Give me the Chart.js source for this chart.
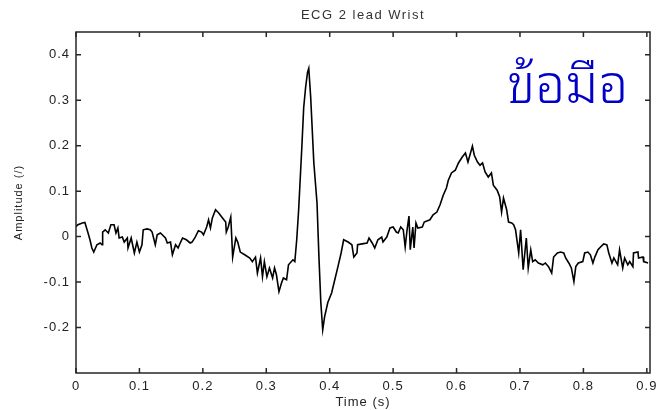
<!DOCTYPE html>
<html>
<head>
<meta charset="utf-8">
<script src="https://cdn.jsdelivr.net/npm/chart.js@4.4.1/dist/chart.umd.min.js"></script>
<style>
html,body{margin:0;padding:0;background:#fff;}
#wrap{position:relative;width:657px;height:410px;overflow:hidden;}
#thai{position:absolute;left:507px;top:53px;font-family:"Noto Sans Thai Looped","Loma","Garuda","Norasi","Kinnari","Waree","Tahoma","Noto Sans Thai",sans-serif;font-size:53px;font-weight:300;line-height:1;color:#0000c8;white-space:nowrap;}
</style>
</head>
<body>
<div id="wrap">
<canvas id="c" width="657" height="410"></canvas>
<div id="thai">ข้อมือ</div>
</div>
<script>
const chartTitle = "ECG 2 lead Wrist";
const xTitle = "Time (s)";
const yTitle = "Amplitude (/)";
const xTicks = [0,0.1,0.2,0.3,0.4,0.5,0.6,0.7,0.8,0.9];
const yTicks = [-0.2,-0.1,0,0.1,0.2,0.3,0.4];
const time = [0,0.003,0.010,0.014,0.019,0.022,0.025,0.028,0.033,0.038,0.041,0.042,0.046,0.051,0.055,0.060,0.063,0.066,0.068,0.073,0.076,0.081,0.082,0.087,0.092,0.096,0.100,0.104,0.106,0.112,0.117,0.120,0.125,0.128,0.133,0.136,0.141,0.144,0.149,0.152,0.157,0.161,0.165,0.168,0.174,0.180,0.183,0.188,0.193,0.198,0.201,0.206,0.209,0.212,0.215,0.220,0.225,0.231,0.236,0.237,0.240,0.244,0.245,0.247,0.252,0.255,0.259,0.266,0.274,0.278,0.283,0.286,0.291,0.294,0.297,0.301,0.305,0.310,0.313,0.316,0.320,0.324,0.327,0.332,0.335,0.342,0.345,0.348,0.351,0.356,0.359,0.362,0.365,0.367,0.370,0.375,0.380,0.383,0.386,0.389,0.392,0.397,0.403,0.408,0.413,0.418,0.422,0.429,0.435,0.438,0.443,0.444,0.451,0.459,0.462,0.467,0.471,0.476,0.482,0.484,0.490,0.495,0.500,0.505,0.508,0.512,0.516,0.519,0.522,0.525,0.527,0.531,0.533,0.536,0.539,0.546,0.549,0.558,0.563,0.569,0.574,0.579,0.584,0.587,0.592,0.598,0.603,0.609,0.614,0.618,0.622,0.625,0.628,0.633,0.637,0.641,0.645,0.650,0.655,0.658,0.664,0.668,0.671,0.674,0.679,0.682,0.687,0.690,0.693,0.698,0.701,0.705,0.710,0.713,0.717,0.720,0.724,0.729,0.736,0.740,0.745,0.750,0.753,0.759,0.764,0.769,0.772,0.777,0.781,0.785,0.788,0.792,0.799,0.802,0.807,0.811,0.815,0.818,0.823,0.827,0.832,0.837,0.840,0.845,0.848,0.854,0.857,0.862,0.865,0.870,0.873,0.878,0.879,0.886,0.887,0.894,0.895,0.902];
const amplitude = [0.022,0.026,0.030,0.031,0.008,-0.007,-0.025,-0.034,-0.018,-0.014,-0.018,0.010,0.015,0.008,0.026,0.026,0.008,0.019,-0.003,-0.001,-0.012,-0.003,-0.025,-0.003,-0.036,-0.012,-0.034,-0.018,0.015,0.017,0.015,0.010,-0.018,0.004,0.008,0.004,-0.003,-0.014,-0.012,-0.040,-0.018,-0.025,-0.012,-0.003,-0.007,-0.014,-0.012,-0.001,0.013,0.010,0.004,0.021,0.037,0.019,0.041,0.059,0.052,0.041,0.032,0.010,0.021,0.043,0.015,-0.045,-0.003,-0.012,-0.034,-0.040,-0.047,-0.055,-0.045,-0.080,-0.047,-0.088,-0.055,-0.088,-0.069,-0.091,-0.069,-0.084,-0.121,-0.102,-0.091,-0.095,-0.062,-0.051,-0.055,-0.007,0.058,0.195,0.284,0.328,0.361,0.370,0.307,0.162,0.074,-0.044,-0.145,-0.205,-0.176,-0.145,-0.124,-0.095,-0.066,-0.036,-0.007,-0.012,-0.018,-0.045,-0.036,-0.018,-0.016,-0.014,-0.003,-0.014,-0.025,-0.007,-0.001,-0.012,-0.001,0.019,0.021,0.010,0.008,0.021,0.015,-0.023,0.015,0.045,-0.029,0.021,-0.025,0.030,0.019,0.021,0.032,0.037,0.048,0.054,0.070,0.091,0.107,0.124,0.140,0.146,0.162,0.175,0.184,0.164,0.184,0.199,0.179,0.164,0.157,0.162,0.142,0.131,0.140,0.113,0.102,0.087,0.054,0.085,0.059,0.032,0.030,0.026,0.015,-0.036,0.015,-0.073,-0.003,-0.069,-0.029,-0.055,-0.051,-0.058,-0.062,-0.058,-0.066,-0.080,-0.045,-0.036,-0.034,-0.036,-0.047,-0.058,-0.069,-0.099,-0.066,-0.058,-0.055,-0.036,-0.034,-0.040,-0.058,-0.045,-0.029,-0.023,-0.016,-0.018,-0.036,-0.058,-0.047,-0.062,-0.029,-0.069,-0.047,-0.062,-0.055,-0.066,-0.036,-0.034,-0.047,-0.045,-0.055,-0.058];

const points = time.map((t,i)=>({x:t,y:amplitude[i]}));

const framePlugin = {
  id:'frame',
  beforeUpdate(chart){ chart.ctx.letterSpacing='1px'; },
  beforeDraw(chart){ chart.ctx.letterSpacing='1px'; },
  afterDraw(chart){
    const ctx=chart.ctx, a=chart.chartArea;
    const xs=chart.scales.x, ys=chart.scales.y;
    ctx.save();
    ctx.strokeStyle='#262626';
    ctx.lineWidth=1.5;
    ctx.strokeRect(a.left,a.top,a.right-a.left,a.bottom-a.top);
    ctx.beginPath();
    const L=5;
    xTicks.forEach(v=>{
      const px=xs.getPixelForValue(v);
      ctx.moveTo(px,a.bottom); ctx.lineTo(px,a.bottom-L);
      ctx.moveTo(px,a.top); ctx.lineTo(px,a.top+L);
    });
    yTicks.forEach(v=>{
      const py=ys.getPixelForValue(v);
      ctx.moveTo(a.left,py); ctx.lineTo(a.left+L,py);
      ctx.moveTo(a.right,py); ctx.lineTo(a.right-L,py);
    });
    ctx.stroke();
    ctx.letterSpacing='1.5px';
    ctx.fillStyle='#333';
    ctx.font='13px "Liberation Sans", Arial, sans-serif';
    ctx.textAlign='center';
    ctx.textBaseline='middle';
    ctx.fillText(chartTitle,(a.left+a.right)/2,15);
    ctx.restore();
  }
};

new Chart(document.getElementById('c'),{
  type:'line',
  data:{datasets:[{data:points,borderColor:'#000',borderWidth:1.6,pointRadius:0,tension:0,fill:false}]},
  options:{
    responsive:false,
    animation:false,
    layout:{padding:{left:0,right:7,top:32,bottom:0}},
    plugins:{legend:{display:false},tooltip:{enabled:false},title:{display:false}},
    scales:{
      x:{type:'linear',min:0,max:0.905,
        grid:{display:false,drawTicks:false},border:{display:false},
        afterBuildTicks(s){ s.ticks = xTicks.map(v=>({value:v})); },
        afterFit(s){ s.height=37; s.paddingLeft=0; s.paddingRight=0; },
        ticks:{padding:6,color:'#222',font:{family:'"Liberation Sans", Arial, sans-serif',size:13},maxRotation:0,autoSkip:false,
          callback:(v)=>String(Math.round(v*10)/10)},
        title:{display:true,text:xTitle,color:'#222',font:{family:'"Liberation Sans", Arial, sans-serif',size:13},padding:{top:0,bottom:0}}
      },
      y:{type:'linear',min:-0.3,max:0.45,
        grid:{display:false,drawTicks:false},border:{display:false},
        afterBuildTicks(s){ s.ticks = yTicks.map(v=>({value:v})); },
        afterFit(s){ s.width=76; s.paddingTop=0; s.paddingBottom=0; },
        ticks:{padding:6,color:'#222',font:{family:'"Liberation Sans", Arial, sans-serif',size:13},autoSkip:false,
          callback:(v)=>String(Math.round(v*10)/10)},
        title:{display:true,text:yTitle,color:'#222',font:{family:'"Liberation Sans", Arial, sans-serif',size:11},padding:{top:12,bottom:0}}
      }
    }
  },
  plugins:[framePlugin]
});
</script>
</body>
</html>
